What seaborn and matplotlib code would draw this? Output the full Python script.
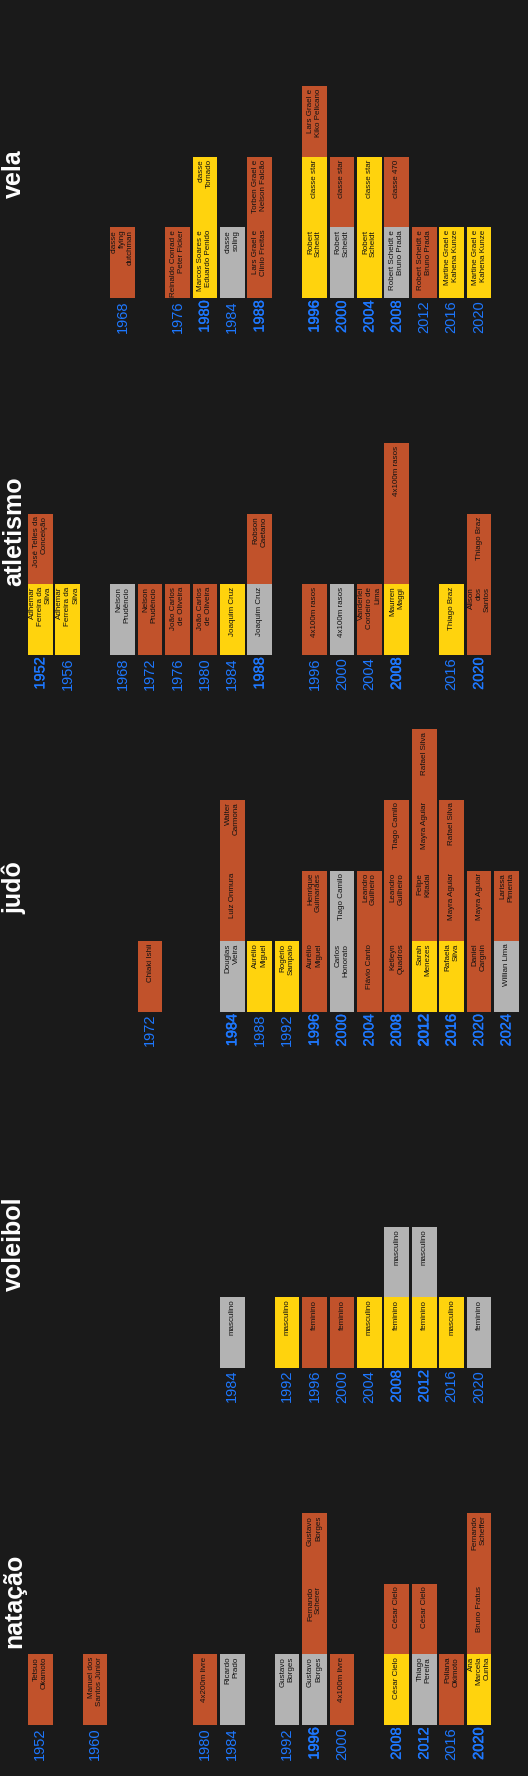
import pandas as pd
import seaborn as sns
import matplotlib.pyplot as plt
import matplotlib.patheffects as pe
from matplotlib import transforms

FUNDO = "#1a1a1a"
AZUL = "#1e78ff"
TEXTO = "#111111"
CORES = {"ouro": "#ffd30d", "prata": "#b3b3b3", "bronze": "#c1522b"}

# eixo categorico comum: anos com alguma medalha nos cinco esportes
ANOS = ["1952", "1956", "1960", "1968", "1972", "1976", "1980", "1984", "1988",
        "1992", "1996", "2000", "2004", "2008", "2012", "2016", "2020", "2024"]

# vela (ordem de empilhamento dentro de cada ano)
vela_anos = ["1968", "1976", "1980", "1980", "1984", "1988", "1988", "1996", "1996", "1996",
             "2000", "2000", "2004", "2004", "2008", "2008", "2012", "2016", "2020"]
vela_medalhas = ["bronze", "bronze", "ouro", "ouro", "prata", "bronze", "bronze", "ouro", "ouro", "bronze",
                 "prata", "bronze", "ouro", "ouro", "prata", "bronze", "bronze", "ouro", "ouro"]
vela_rotulos = ["classe\nflying\ndutchman", "Reinaldo Conrad e\nPeter Ficker",
                "Marcos Soares e\nEduardo Penido", "classe\nTornado", "classe\nsoling",
                "Lars Grael e\nClinio Freitas", "Torben Grael e\nNelson Falcão",
                "Robert\nScheidt", "classe star", "Lars Grael e\nKiko Pelicano",
                "Robert\nScheidt", "classe star", "Robert\nScheidt", "classe star",
                "Robert Scheidt e\nBruno Prada", "classe 470", "Robert Scheidt e\nBruno Prada",
                "Martine Grael e\nKahena Kunze", "Martine Grael e\nKahena Kunze"]

# atletismo
atl_anos = ["1952", "1952", "1956", "1968", "1972", "1976", "1980", "1984", "1988", "1988",
            "1996", "2000", "2004", "2008", "2008", "2008", "2016", "2020", "2020"]
atl_medalhas = ["ouro", "bronze", "ouro", "prata", "bronze", "bronze", "bronze", "ouro", "prata", "bronze",
                "bronze", "prata", "bronze", "ouro", "bronze", "bronze", "ouro", "bronze", "bronze"]
atl_rotulos = ["Adhemar\nFerreira da\nSilva", "José Telles da\nConceição",
               "Adhemar\nFerreira da\nSilva", "Nelson\nPrudêncio", "Nelson\nPrudêncio",
               "João Carlos\nde Oliveira", "João Carlos\nde Oliveira", "Joaquim Cruz",
               "Joaquim Cruz", "Robson\nCaetano", "4x100m rasos", "4x100m rasos",
               "Vanderlei\nCordeiro de\nLima", "Maurren\nMaggi", "", "4x100m rasos",
               "Thiago Braz", "Alison\ndos\nSantos", "Thiago Braz"]

# judo
judo_anos = ["1972", "1984", "1984", "1984", "1988", "1992", "1996", "1996", "2000", "2000",
             "2004", "2004", "2008", "2008", "2008", "2012", "2012", "2012", "2012",
             "2016", "2016", "2016", "2020", "2020", "2024", "2024"]
judo_medalhas = ["bronze", "prata", "bronze", "bronze", "ouro", "ouro", "bronze", "bronze", "prata", "prata",
                 "bronze", "bronze", "bronze", "bronze", "bronze", "ouro", "bronze", "bronze", "bronze",
                 "ouro", "bronze", "bronze", "bronze", "bronze", "prata", "bronze"]
judo_rotulos = ["Chiaki Ishii", "Douglas\nVieira", "Luiz Onmura", "Walter\nCarmona",
                "Aurélio\nMiguel", "Rogério\nSampaio", "Aurélio\nMiguel", "Henrique\nGuimarães",
                "Carlos\nHonorato", "Tiago Camilo", "Flávio Canto", "Leandro\nGuilheiro",
                "Ketleyn\nQuadros", "Leandro\nGuilheiro", "Tiago Camilo", "Sarah\nMenezes",
                "Felipe\nKitadai", "Mayra Aguiar", "Rafael Silva", "Rafaela\nSilva",
                "Mayra Aguiar", "Rafael Silva", "Daniel\nCargnin", "Mayra Aguiar",
                "Willian Lima", "Larissa\nPimenta"]

# voleibol
volei_anos = ["1984", "1992", "1996", "2000", "2004", "2008", "2008", "2012", "2012", "2016", "2020"]
volei_medalhas = ["prata", "ouro", "bronze", "bronze", "ouro", "ouro", "prata", "ouro", "prata", "ouro", "prata"]
volei_rotulos = ["masculino", "masculino", "feminino", "feminino", "masculino", "feminino",
                 "masculino", "feminino", "masculino", "masculino", "feminino"]

# natacao
nat_anos = ["1952", "1960", "1980", "1984", "1992", "1996", "1996", "1996", "2000",
            "2008", "2008", "2012", "2012", "2016", "2020", "2020", "2020"]
nat_medalhas = ["bronze", "bronze", "bronze", "prata", "prata", "prata", "bronze", "bronze", "bronze",
                "ouro", "bronze", "prata", "bronze", "bronze", "ouro", "bronze", "bronze"]
nat_rotulos = ["Tetsuo\nOkamoto", "Manuel dos\nSantos Júnior", "4x200m livre", "Ricardo\nPrado",
               "Gustavo\nBorges", "Gustavo\nBorges", "Fernando\nScherer", "Gustavo\nBorges",
               "4x100m livre", "César Cielo", "César Cielo", "Thiago\nPereira", "César Cielo",
               "Poliana\nOkimoto", "Ana\nMarcela\nCunha", "Bruno Fratus", "Fernando\nScheffer"]

esportes = [("vela", vela_anos, vela_medalhas, vela_rotulos),
            ("atletismo", atl_anos, atl_medalhas, atl_rotulos),
            ("judô", judo_anos, judo_medalhas, judo_rotulos),
            ("voleibol", volei_anos, volei_medalhas, volei_rotulos),
            ("natação", nat_anos, nat_medalhas, nat_rotulos)]

sns.set_style("dark", {"axes.facecolor": "none", "figure.facecolor": FUNDO})
plt.rcParams["font.family"] = ["Liberation Sans", "DejaVu Sans"]

W, H = 528, 1776
TILE = 70.6          # altura de um bloco em px
BASES = [298, 655, 1011.7, 1367.7, 1725]   # linha de base de cada painel (px a partir do topo)

fig = plt.figure(figsize=(W / 100, H / 100), dpi=100)

for (nome, anos, medalhas, rotulos), base in zip(esportes, BASES):
    df = pd.DataFrame({"ano": anos, "medalha": medalhas, "rotulo": rotulos})
    df["nivel"] = df.groupby("ano").cumcount()
    df["altura"] = 1

    ax = fig.add_axes([26.6 / W, 1 - base / H, 493.6 / W, 4 * TILE / H])
    for k in range(df["nivel"].max() + 1):
        sns.barplot(data=df[df["nivel"] == k], x="ano", y="altura", hue="medalha",
                    order=ANOS, hue_order=list(CORES), palette=CORES, dodge=False,
                    width=0.9, saturation=1, errorbar=None, legend=False,
                    bottom=k, linewidth=0, ax=ax)

    for _, r in df.iterrows():
        ax.text(ANOS.index(r["ano"]), r["nivel"] + 1 - 0.035, r["rotulo"],
                rotation=90, rotation_mode="anchor", ha="right", va="center",
                multialignment="right", fontsize=5.8, color=TEXTO)

    contagem = df["ano"].value_counts()
    ax.set_xticks(range(len(ANOS)))
    ax.set_xticklabels([a if a in contagem else "" for a in ANOS],
                       rotation=90, color=AZUL, fontsize=10.5)
    ax.tick_params(axis="x", length=0, pad=1.5)
    for lbl, a in zip(ax.get_xticklabels(), ANOS):
        n = contagem.get(a, 0)
        if n > 1:
            lbl.set_path_effects([pe.withStroke(linewidth=0.2 * (n - 1), foreground=AZUL)])

    ax.set_xlim(-0.5, len(ANOS) - 0.5)
    ax.set_ylim(0, 4)
    ax.set_yticks([])
    ax.set_xlabel("")
    ax.set_ylabel("")
    for s in ax.spines.values():
        s.set_visible(False)

    trans = transforms.blended_transform_factory(fig.transFigure, ax.transData)
    ax.text(21 / W, 124 / TILE, nome, transform=trans, rotation=90,
            rotation_mode="anchor", ha="center", va="baseline",
            fontsize=18, fontweight="bold", color="white")

fig.savefig("out.png", dpi=100, facecolor=FUNDO)
